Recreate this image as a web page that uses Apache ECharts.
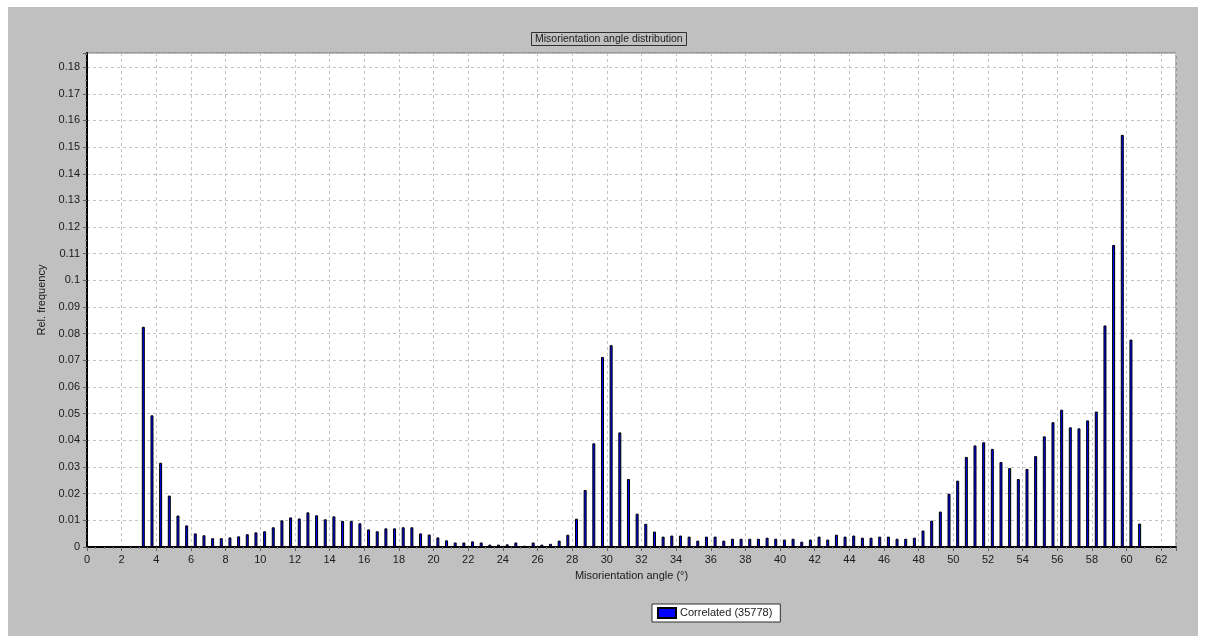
<!DOCTYPE html>
<html>
<head>
<meta charset="utf-8">
<title>Misorientation angle distribution</title>
<script src="https://cdn.jsdelivr.net/npm/echarts@6/dist/echarts.min.js"></script>
<style>
  html, body { margin: 0; padding: 0; background: #ffffff; }
  #panel { position: absolute; left: 8px; top: 7px; width: 1190px; height: 629px; background: #c0c0c0; }
  #chart { position: absolute; left: 0; top: 0; width: 1208px; height: 644px; }
</style>
</head>
<body>
<div id="panel"></div>
<div id="chart"></div>
<script>
// Bin centres (degrees), 0.5° bins
const angles = [
  3.25, 3.75, 4.25, 4.75, 5.25, 5.75, 6.25, 6.75, 7.25, 7.75,
  8.25, 8.75, 9.25, 9.75, 10.25, 10.75, 11.25, 11.75, 12.25, 12.75,
  13.25, 13.75, 14.25, 14.75, 15.25, 15.75, 16.25, 16.75, 17.25, 17.75,
  18.25, 18.75, 19.25, 19.75, 20.25, 20.75, 21.25, 21.75, 22.25, 22.75,
  23.25, 23.75, 24.25, 24.75, 25.25, 25.75, 26.25, 26.75, 27.25, 27.75,
  28.25, 28.75, 29.25, 29.75, 30.25, 30.75, 31.25, 31.75, 32.25, 32.75,
  33.25, 33.75, 34.25, 34.75, 35.25, 35.75, 36.25, 36.75, 37.25, 37.75,
  38.25, 38.75, 39.25, 39.75, 40.25, 40.75, 41.25, 41.75, 42.25, 42.75,
  43.25, 43.75, 44.25, 44.75, 45.25, 45.75, 46.25, 46.75, 47.25, 47.75,
  48.25, 48.75, 49.25, 49.75, 50.25, 50.75, 51.25, 51.75, 52.25, 52.75,
  53.25, 53.75, 54.25, 54.75, 55.25, 55.75, 56.25, 56.75, 57.25, 57.75,
  58.25, 58.75, 59.25, 59.75, 60.25, 60.75
];

// Relative frequency per bin
const relFrequency = [
  0.0826, 0.0494, 0.0316, 0.0193, 0.0118, 0.0081, 0.0051, 0.0044, 0.0033, 0.0033,
  0.0036, 0.0040, 0.0048, 0.0055, 0.0059, 0.0074, 0.0100, 0.0111, 0.0107, 0.0130,
  0.0119, 0.0104, 0.0115, 0.0098, 0.0098, 0.0089, 0.0066, 0.0059, 0.0070, 0.0070,
  0.0074, 0.0074, 0.0051, 0.0047, 0.0036, 0.0025, 0.0017, 0.0017, 0.0021, 0.0017,
  0.0009, 0.0009, 0.0010, 0.0017, 0.0005, 0.0017, 0.0009, 0.0012, 0.0024, 0.0046,
  0.0106, 0.0214, 0.0389, 0.0713, 0.0757, 0.0430, 0.0255, 0.0125, 0.0087, 0.0058,
  0.0039, 0.0043, 0.0043, 0.0039, 0.0024, 0.0039, 0.0039, 0.0024, 0.0031, 0.0031,
  0.0031, 0.0031, 0.0035, 0.0031, 0.0028, 0.0031, 0.0020, 0.0028, 0.0039, 0.0028,
  0.0046, 0.0039, 0.0043, 0.0035, 0.0035, 0.0039, 0.0039, 0.0031, 0.0031, 0.0035,
  0.0062, 0.0099, 0.0133, 0.0200, 0.0249, 0.0338, 0.0381, 0.0393, 0.0368, 0.0319,
  0.0296, 0.0255, 0.0293, 0.0341, 0.0415, 0.0468, 0.0515, 0.0449, 0.0445, 0.0475,
  0.0508, 0.0831, 0.1133, 0.1546, 0.0778, 0.0088
];

const seriesName = 'Correlated (35778)';
const chartTitle = 'Misorientation angle distribution';
const xAxisTitle = 'Misorientation angle (°)';
const yAxisTitle = 'Rel. frequency';

const font = "'Liberation Sans', Arial, sans-serif";
const textColor = '#1a1a1a';

const chart = echarts.init(document.getElementById('chart'), null, { renderer: 'canvas' });

const isMultiple = (v, step) => Math.abs(v / step - Math.round(v / step)) < 1e-6;

chart.setOption({
  animation: false,
  backgroundColor: 'transparent',
  title: {
    text: chartTitle,
    left: 531,
    top: 32,
    padding: [1, 4, 1, 4],
    borderColor: '#303030',
    borderWidth: 1,
    backgroundColor: '#c0c0c0',
    textStyle: { fontFamily: font, fontSize: 10.5, fontWeight: 'normal', color: textColor, lineHeight: 12 }
  },
  legend: {
    data: [seriesName],
    left: 652,
    top: 604,
    padding: [3, 8, 3, 5],
    backgroundColor: '#ffffff',
    borderColor: '#303030',
    borderWidth: 1,
    borderRadius: 0,
    itemWidth: 18,
    itemHeight: 10,
    itemGap: 4,
    icon: 'rect',
    textStyle: { fontFamily: font, fontSize: 11, color: textColor, padding: [0, 0, 0, -1] }
  },
  grid: {
    left: 87,
    right: 32,
    top: 53,
    bottom: 97,
    show: true,
    backgroundColor: '#ffffff',
    borderColor: '#707070',
    borderWidth: 1
  },
  xAxis: {
    type: 'value',
    min: 0,
    max: 62.85,
    interval: 2,
    name: xAxisTitle,
    nameLocation: 'middle',
    nameGap: 23,
    nameTextStyle: { fontFamily: font, fontSize: 11, color: textColor },
    axisLine: { show: true, onZero: false, lineStyle: { color: '#000000', width: 2 } },
    axisTick: { show: true, length: 4, lineStyle: { color: '#606060' } },
    minorTick: { show: true, splitNumber: 4, length: 2, lineStyle: { color: '#808080' } },
    axisLabel: {
      fontFamily: font, fontSize: 11, color: textColor, margin: 7,
      showMaxLabel: false,
      formatter: v => (isMultiple(v, 2) ? String(Math.round(v)) : '')
    },
    splitLine: { show: true, lineStyle: { color: '#c4c4c4', type: [3, 3], width: 1 } }
  },
  yAxis: {
    type: 'value',
    min: 0,
    max: 0.1853,
    interval: 0.01,
    name: yAxisTitle,
    nameLocation: 'middle',
    nameGap: 33,
    nameRotate: 90,
    nameTextStyle: { fontFamily: font, fontSize: 11, color: textColor },
    axisLine: { show: true, lineStyle: { color: '#000000', width: 2 } },
    axisTick: { show: true, length: 4, lineStyle: { color: '#606060' } },
    minorTick: { show: true, splitNumber: 4, length: 2, lineStyle: { color: '#808080' } },
    axisLabel: {
      fontFamily: font, fontSize: 11, color: textColor, margin: 7,
      showMaxLabel: false,
      formatter: v => (isMultiple(v, 0.01) ? String(Math.round(v * 100) / 100) : '')
    },
    splitLine: { show: true, lineStyle: { color: '#c4c4c4', type: [3, 3], width: 1 } }
  },
  series: [{
    name: seriesName,
    type: 'bar',
    data: angles.map((a, i) => [a, relFrequency[i]]),
    barWidth: 3,
    itemStyle: { color: '#0000ff', borderColor: '#000000', borderWidth: 1 },
    emphasis: { disabled: true }
  }]
});
</script>
</body>
</html>
